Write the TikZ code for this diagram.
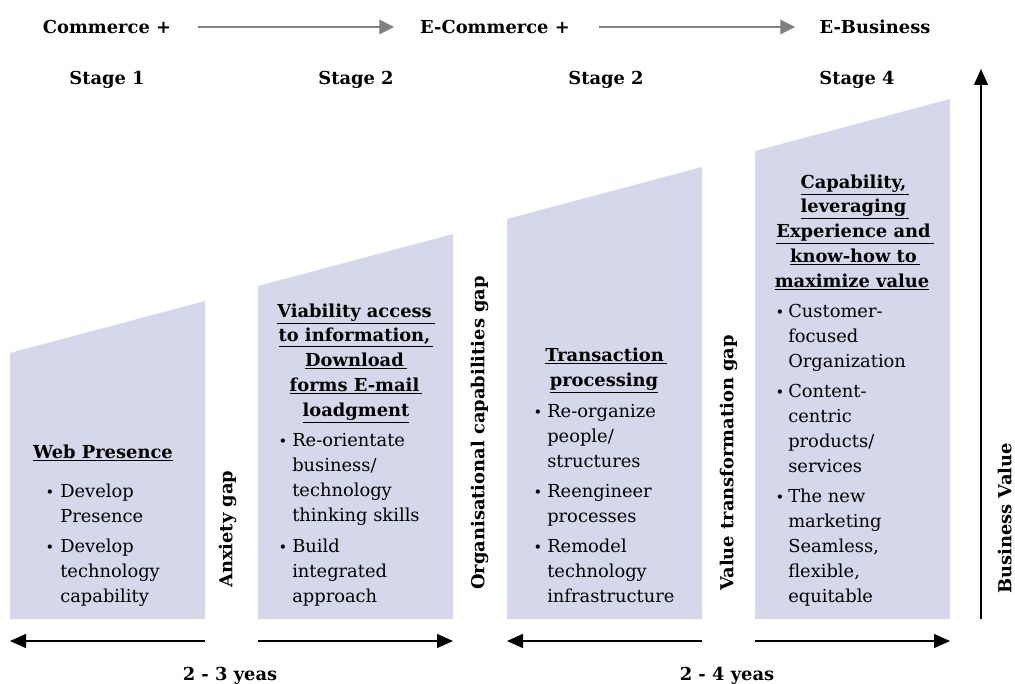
\documentclass[tikz,border=0pt]{standalone}
\usepackage{fontspec}
\setmainfont{DejaVu Serif}
\usetikzlibrary{arrows.meta}
\definecolor{boxfill}{RGB}{213,215,234}
\definecolor{arrgray}{RGB}{128,128,128}
\begin{document}
\begin{tikzpicture}[x=0.75pt,y=-0.75pt,
  stagebox/.style={fill=boxfill,draw=none},
  txt/.style={font=\fontsize{13.4}{16}\selectfont,inner sep=0pt,anchor=mid west,yshift=-2.2pt},
  bul/.style={font=\fontsize{11}{13}\selectfont,inner sep=0pt,anchor=mid,yshift=-2.2pt},
  hd/.style={font=\bfseries\fontsize{13.4}{16}\selectfont,inner sep=0pt,anchor=mid,yshift=-2.2pt},
  lbl/.style={font=\bfseries\fontsize{13.4}{16}\selectfont,inner sep=0pt,anchor=mid,yshift=-2.2pt},
  gaplbl/.style={font=\bfseries\fontsize{13.4}{16}\selectfont,inner sep=0pt,rotate=90,anchor=mid west},
  grayarr/.style={draw=arrgray,line width=0.8pt,-{Triangle[length=11pt,width=11pt]}},
  blkarr/.style={draw=black,line width=1pt,-{Triangle[length=12pt,width=10.5pt]}}
]
\useasboundingbox (0,0) rectangle (1015,684);

% stage shapes
\fill[stagebox] (10,619) -- (10,353) -- (205,301) -- (205,619) -- cycle;
\fill[stagebox] (258,619) -- (258,286) -- (453,234) -- (453,619) -- cycle;
\fill[stagebox] (507,619) -- (507,219) -- (702,167) -- (702,619) -- cycle;
\fill[stagebox] (755,619) -- (755,151) -- (950,99) -- (950,619) -- cycle;

% top row
\node[lbl] (com) at (107,27) {Commerce +};
\node[lbl] (ecom) at (495,27) {E-Commerce +};
\node[lbl] (ebus) at (875,27) {E-Business};
\coordinate (a1s) at (198,27); \coordinate (a1e) at (394,27);
\coordinate (a2s) at (599,27); \coordinate (a2e) at (795,27);
\draw[grayarr] (a1s) -- (a1e);
\draw[grayarr] (a2s) -- (a2e);

\node[lbl] (s1) at (107,78) {Stage 1};
\node[lbl] (s2) at (356,78) {Stage 2};
\node[lbl] (s3) at (606,78) {Stage 2};
\node[lbl] (s4) at (857,78) {Stage 4};

% business value axis
\coordinate (bvb) at (981,619); \coordinate (bvt) at (981,69);
\draw[blkarr] (bvb) -- (bvt);
\node[gaplbl] (bv) at (1008,594) {Business Value};

% gap labels
\node[gaplbl] (g1) at (229,588) {Anxiety gap};
\node[gaplbl] (g2) at (481,590) {Organisational capabilities gap};
\node[gaplbl] (g3) at (730,591) {Value transformation gap};

% bottom arrows
\coordinate (b1s) at (205,641); \coordinate (b1e) at (10,641);
\coordinate (b2s) at (258,641); \coordinate (b2e) at (453,641);
\coordinate (b3s) at (702,641); \coordinate (b3e) at (507,641);
\coordinate (b4s) at (755,641); \coordinate (b4e) at (950,641);
\draw[blkarr] (b1s) -- (b1e);
\draw[blkarr] (b2s) -- (b2e);
\draw[blkarr] (b3s) -- (b3e);
\draw[blkarr] (b4s) -- (b4e);
\node[lbl] (y1) at (230,674) {2 - 3 yeas};
\node[lbl] (y2) at (727,674) {2 - 4 yeas};

% box 1
\node[hd] (h1) at (103,452) {\underline{Web Presence}};
\node[bul] (p1a) at (50,491) {\textbullet};
\node[txt] (t1a) at (60,491) {Develop};
\node[txt] (t1b) at (60,516) {Presence};
\node[bul] (p1b) at (50,546) {\textbullet};
\node[txt] (t1c) at (60,546) {Develop};
\node[txt] (t1d) at (60,571) {technology};
\node[txt] (t1e) at (60,596) {capability};

% box 2
\node[hd] (h2a) at (356,311) {\underline{Viability access\,}};
\node[hd] (h2b) at (356,335) {\underline{to information,\,}};
\node[hd] (h2c) at (356,360) {\underline{Download\,}};
\node[hd] (h2d) at (356,385) {\underline{forms E-mail\,}};
\node[hd] (h2e) at (356,410) {\underline{loadgment}};
\node[bul] (p2a) at (283,440) {\textbullet};
\node[txt] (t2a) at (292,440) {Re-orientate};
\node[txt] (t2b) at (292,465) {business/};
\node[txt] (t2c) at (292,490) {technology};
\node[txt] (t2d) at (292,515) {thinking skills};
\node[bul] (p2b) at (283,546) {\textbullet};
\node[txt] (t2e) at (292,546) {Build};
\node[txt] (t2f) at (292,571) {integrated};
\node[txt] (t2g) at (292,596) {approach};

% box 3
\node[hd] (h3a) at (606,355) {\underline{Transaction\,}};
\node[hd] (h3b) at (604,380) {\underline{processing}};
\node[bul] (p3a) at (538,411) {\textbullet};
\node[txt] (t3a) at (547,411) {Re-organize};
\node[txt] (t3b) at (547,436) {people/};
\node[txt] (t3c) at (547,461) {structures};
\node[bul] (p3b) at (538,491) {\textbullet};
\node[txt] (t3d) at (547,491) {Reengineer};
\node[txt] (t3e) at (547,516) {processes};
\node[bul] (p3c) at (538,546) {\textbullet};
\node[txt] (t3f) at (547,546) {Remodel};
\node[txt] (t3g) at (547,571) {technology};
\node[txt] (t3h) at (547,596) {infrastructure};

% box 4
\node[hd] (h4a) at (855,182) {\underline{Capability,\,}};
\node[hd] (h4b) at (855,206) {\underline{leveraging\,}};
\node[hd] (h4c) at (855,231) {\underline{Experience and\,}};
\node[hd] (h4d) at (855,256) {\underline{know-how to\,}};
\node[hd] (h4e) at (852,281) {\underline{maximize value}};
\node[bul] (p4a) at (780,311) {\textbullet};
\node[txt] (t4a) at (788,311) {Customer-};
\node[txt] (t4b) at (788,336) {focused};
\node[txt] (t4c) at (788,361) {Organization};
\node[bul] (p4b) at (780,391) {\textbullet};
\node[txt] (t4d) at (788,391) {Content-};
\node[txt] (t4e) at (788,416) {centric};
\node[txt] (t4f) at (788,441) {products/};
\node[txt] (t4g) at (788,466) {services};
\node[bul] (p4c) at (780,496) {\textbullet};
\node[txt] (t4h) at (788,496) {The new};
\node[txt] (t4i) at (788,521) {marketing};
\node[txt] (t4j) at (788,546) {Seamless,};
\node[txt] (t4k) at (788,571) {flexible,};
\node[txt] (t4l) at (788,596) {equitable};
\end{tikzpicture}
\end{document}
